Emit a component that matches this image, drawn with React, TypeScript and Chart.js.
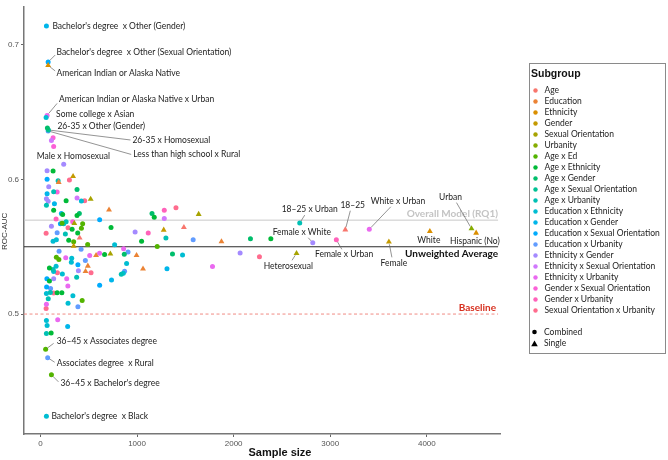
import { useEffect, useRef } from "react";
import { Chart, registerables } from "chart.js";
Chart.register(...registerables);

const LABEL_FONT = "Lato, 'Open Sans', sans-serif";
const AXIS_FONT = "'Liberation Sans Narrow', 'Liberation Sans', Roboto, sans-serif";

const subgroups = [
  "Age", "Education", "Ethnicity", "Gender", "Sexual Orientation", "Urbanity",
  "Age x Ed", "Age x Ethnicity", "Age x Gender", "Age x Sexual Orientation", "Age x Urbanity",
  "Education x Ethnicity", "Education x Gender", "Education x Sexual Orientation", "Education x Urbanity",
  "Ethnicity x Gender", "Ethnicity x Sexual Orientation", "Ethnicity x Urbanity",
  "Gender x Sexual Orientation", "Gender x Urbanity", "Sexual Orientation x Urbanity",
];
const subgroupColors = [
  "#F8766D", "#EB8335", "#DA8F00", "#C49A00", "#A7A300", "#86AC00",
  "#53B400", "#00BA38", "#00BE6C", "#00C194", "#00C0B4",
  "#00BDD2", "#00B6EA", "#00ABFD", "#619CFF",
  "#A48AFF", "#D078FD", "#EA69F0",
  "#FB61D7", "#FF62BA", "#FF6C8E",
];

const xTicks = [0, 1000, 2000, 3000, 4000];
const yTicks = [0.5, 0.6, 0.7];
const X_MIN = -170, X_MAX = 4757, Y_MIN = 0.411, Y_MAX = 0.728;

const overallModel = 0.5697;
const unweightedAverage = 0.55;
const baseline = 0.5;

const sampleSize = [
  62, 80, 80, 69, 59, 72, 83, 80, 131, 114, 137, 241, 69, 131, 338, 69, 300, 183, 189, 86,
  379, 69, 137, 173, 62, 80, 379, 266, 424, 458, 520, 62, 145, 137, 710, 217, 230, 403, 379, 613,
  162, 224, 266, 334, 351, 207, 241, 437, 731, 114, 286, 328, 424, 386, 59, 173, 258, 406, 131, 165,
  293, 344, 489, 344, 421, 768, 1155, 1178, 1282, 1282, 1403, 1638, 980, 1116, 1276, 1299, 1485, 1581, 1047, 1209,
  1874, 2174, 2385, 1367, 1471, 2067, 2267, 2651, 2684, 3156, 3404, 4462, 4510, 4031, 3607, 3063, 2819, 861, 907, 868,
  724, 995, 892, 1062, 1310, 1781, 871, 858, 837, 736, 193, 165, 191, 262, 324, 510, 576, 612, 664, 465,
  320, 388, 93, 162, 131, 491, 393, 467, 524, 137, 176, 227, 272, 375, 67, 137, 93, 613, 284, 64,
  105, 62, 103, 137, 173, 222, 336, 432, 286, 81, 388, 62, 59, 62, 69, 179, 282, 62, 111, 54,
  75, 114, 62,
];
const rocAuc = [
  0.7138, 0.6870, 0.6845, 0.6474, 0.6459, 0.6381, 0.6366, 0.6359, 0.6308, 0.6288, 0.6244, 0.6112, 0.6064, 0.6061, 0.6022, 0.6000, 0.5995, 0.5989, 0.5978, 0.5944,
  0.5925, 0.5892, 0.5907, 0.5905, 0.5856, 0.5837, 0.5861, 0.5841, 0.5839, 0.5841, 0.5853, 0.5807, 0.5819, 0.5771, 0.5773, 0.5746, 0.5738, 0.5746, 0.5731, 0.5700,
  0.5705, 0.5673, 0.5685, 0.5685, 0.5673, 0.5670, 0.5670, 0.5670, 0.5643, 0.5651, 0.5641, 0.5629, 0.5636, 0.5602, 0.5599, 0.5604, 0.5595, 0.5566, 0.5541, 0.5551,
  0.5548, 0.5536, 0.5516, 0.5504, 0.5480, 0.5514, 0.5746, 0.5719, 0.5771, 0.5709, 0.5788, 0.5741, 0.5608, 0.5602, 0.5624, 0.5564, 0.5643, 0.5551, 0.5541, 0.5502,
  0.5538, 0.5558, 0.5558, 0.5445, 0.5438, 0.5453, 0.5426, 0.5451, 0.5675, 0.5626, 0.5629, 0.5634, 0.5602, 0.5614, 0.5536, 0.5551, 0.5529, 0.5485, 0.5461, 0.5443,
  0.5447, 0.5436, 0.5375, 0.5336, 0.5336, 0.5352, 0.5317, 0.5302, 0.5295, 0.5253, 0.5467, 0.5421, 0.5404, 0.5418, 0.5414, 0.5434, 0.5436, 0.5452, 0.5442, 0.5397,
  0.5385, 0.5366, 0.5341, 0.5355, 0.5331, 0.5357, 0.5322, 0.5317, 0.5306, 0.5315, 0.5306, 0.5297, 0.5262, 0.5273, 0.5262, 0.5262, 0.5245, 0.5214, 0.5209, 0.5201,
  0.5189, 0.5152, 0.5160, 0.5156, 0.5158, 0.5158, 0.5136, 0.5101, 0.5081, 0.5114, 0.5055, 0.5073, 0.5042, 0.4952, 0.4916, 0.4958, 0.4908, 0.4855, 0.4859, 0.4738,
  0.4676, 0.4549, 0.4242,
];
// index into subgroups
const pointGroup = [
  12, 13, 2, 17, 11, 8, 9, 14, 18, 16, 18, 15, 15, 7, 3, 13, 20, 10, 1, 15,
  8, 12, 10, 18, 15, 15, 16, 7, 11, 20, 4, 10, 12, 7, 1, 12, 7, 8, 7, 13,
  19, 6, 10, 18, 4, 13, 11, 6, 7, 15, 20, 7, 6, 7, 20, 14, 10, 0, 11, 11,
  7, 6, 6, 3, 14, 11, 8, 7, 19, 16, 20, 4, 15, 19, 3, 10, 0, 14, 7, 6,
  1, 8, 7, 8, 11, 15, 20, 4, 10, 0, 17, 5, 2, 2, 3, 19, 15, 17, 14, 8,
  4, 1, 11, 1, 12, 17, 14, 11, 10, 12, 14, 6, 6, 17, 11, 17, 1, 17, 7, 14,
  11, 13, 7, 11, 10, 1, 15, 1, 20, 11, 20, 11, 17, 10, 13, 15, 7, 13, 17, 13,
  14, 11, 10, 20, 7, 7, 11, 6, 11, 10, 14, 17, 20, 11, 11, 17, 12, 10, 7, 6,
  14, 6, 11,
];
// C = Combined, S = Single
const pointKind =
  "CCSCCCCCCCCCCCSCCCSC" +
  "CCCCCCCCCCSCCCSCCCCC" +
  "CCCCSCCCCCCCCCCCCSCC" +
  "CCCSCCCCCCCSCCSCSCCC" +
  "SCCCCCCSCSCSSSSCCCCC" +
  "SSCSCCCCCCCCCCCCSCCC" +
  "CCCCCSCSCCCCCCCCCCCC" +
  "CCCCCCCCCCCCCCCCCCCC" +
  "CCC";

// label layout: point index, text, text offset from the point (px), alignment, optional leader end (px)
const annotations: { i: number; text: string; dx: number; dy: number; align: CanvasTextAlign; line?: [number, number] }[] = [
  { i: 0, text: "Bachelor's degree  x Other (Gender)", dx: 6, dy: 0, align: "left" },
  { i: 1, text: "Bachelor's degree  x Other (Sexual Orientation)", dx: 8.3, dy: -10, align: "left", line: [7, -7] },
  { i: 2, text: "American Indian or Alaska Native", dx: 8.3, dy: 8, align: "left", line: [7, 5.5] },
  { i: 3, text: "American Indian or Alaska Native x Urban", dx: 12, dy: -16, align: "left", line: [10, -12] },
  { i: 4, text: "Some college x Asian", dx: 10, dy: -3, align: "left" },
  { i: 5, text: "26-35 x Other (Gender)", dx: 10, dy: -2, align: "left" },
  { i: 6, text: "26-35 x Homosexual", dx: 84, dy: 10, align: "left", line: [82, 10] },
  { i: 7, text: "Less than high school x Rural", dx: 85, dy: 23.5, align: "left", line: [83, 23.5] },
  { i: 10, text: "Male x Homosexual", dx: -17, dy: 10, align: "left" },
  { i: 159, text: "36\u201345 x Associates degree", dx: 11, dy: -8, align: "left", line: [8, -6] },
  { i: 160, text: "Associates degree  x Rural", dx: 9, dy: 6, align: "left", line: [7, 4.5] },
  { i: 161, text: "36\u201345 x Bachelor's degree", dx: 9, dy: 8.5, align: "left", line: [7, 7] },
  { i: 162, text: "Bachelor's degree  x Black", dx: 5, dy: 0, align: "left" },
  { i: 88, text: "18\u201325 x Urban", dx: 10, dy: -13.6, align: "center", line: [5, -8] },
  { i: 89, text: "18\u201325", dx: 7.4, dy: -24.3, align: "center", line: [5, -19] },
  { i: 90, text: "White x Urban", dx: 28.7, dy: -28, align: "center", line: [21.5, -22.5] },
  { i: 91, text: "Urban", dx: -21, dy: -31, align: "center", line: [-15, -26] },
  { i: 92, text: "Hispanic (No)", dx: -1.3, dy: 8.7, align: "center" },
  { i: 93, text: "White", dx: -1, dy: 9, align: "center" },
  { i: 94, text: "Female", dx: 5, dy: 21.7, align: "center", line: [3, 15.5] },
  { i: 95, text: "Female x Urban", dx: 7.7, dy: 14.7, align: "center", line: [5.5, 9.5] },
  { i: 96, text: "Female x White", dx: -11, dy: -10.3, align: "center", line: [-4.5, -5] },
  { i: 87, text: "Heterosexual", dx: -8.2, dy: 13, align: "center", line: [-4.5, 7] },
];

const drawPlugin = {
  id: "drawExtras",
  afterDatasetsDraw(chart: any) {
    const ctx: CanvasRenderingContext2D = chart.ctx;
    const xs = chart.scales.x;
    const ys = chart.scales.y;
    const right = chart.chartArea.right;
    ctx.save();
    // reference line labels
    ctx.textBaseline = "middle";
    ctx.textAlign = "right";
    ctx.font = `bold 10px ${LABEL_FONT}`;
    ctx.fillStyle = "#c4c4c4";
    ctx.fillText("Overall Model (RQ1)", right - 2, ys.getPixelForValue(overallModel) - 6);
    ctx.fillStyle = "#111";
    ctx.fillText("Unweighted Average", right - 2, ys.getPixelForValue(unweightedAverage) + 7.5);
    ctx.fillStyle = "#d7301f";
    ctx.fillText("Baseline", right - 4, ys.getPixelForValue(baseline) - 6);

    // point labels
    ctx.font = `8.5px ${LABEL_FONT}`;
    ctx.fillStyle = "#222";
    ctx.strokeStyle = "#666";
    ctx.lineWidth = 0.7;
    for (const a of annotations) {
      const px = xs.getPixelForValue(sampleSize[a.i]);
      const py = ys.getPixelForValue(rocAuc[a.i]);
      if (a.line) {
        const len = Math.hypot(a.line[0], a.line[1]);
        const sx = px + (a.line[0] / len) * 2.5;
        const sy = py + (a.line[1] / len) * 2.5;
        ctx.beginPath();
        ctx.moveTo(sx, sy);
        ctx.lineTo(px + a.line[0], py + a.line[1]);
        ctx.stroke();
      }
      ctx.textAlign = a.align;
      ctx.fillText(a.text, px + a.dx, py + a.dy);
    }
    ctx.restore();
  },
  afterDraw(chart: any) {
    const ctx: CanvasRenderingContext2D = chart.ctx;
    const area = chart.chartArea;
    ctx.save();
    // axis titles
    ctx.fillStyle = "#111";
    ctx.textAlign = "center";
    ctx.textBaseline = "middle";
    ctx.font = `bold 11px ${AXIS_FONT}`;
    ctx.fillText("Sample size", 280, 452.5);
    ctx.save();
    ctx.translate(5, (area.top + area.bottom) / 2 + 11);
    ctx.rotate(-Math.PI / 2);
    ctx.font = `8px ${AXIS_FONT}`;
    ctx.fillStyle = "#333";
    ctx.fillText("ROC-AUC", 0, 0);
    ctx.restore();

    // legend
    const lx = 529.5, ly = 63.5, lw = 136, lh = 290;
    ctx.strokeStyle = "#8a8a8a";
    ctx.lineWidth = 1;
    ctx.strokeRect(lx, ly, lw, lh);
    ctx.textAlign = "left";
    ctx.fillStyle = "#111";
    ctx.font = `bold 10.5px ${AXIS_FONT}`;
    ctx.fillText("Subgroup", 531, 74);
    ctx.font = `8.5px ${LABEL_FONT}`;
    subgroups.forEach((name, k) => {
      const y = 90.5 + k * 11;
      ctx.fillStyle = subgroupColors[k];
      ctx.beginPath();
      ctx.arc(535.5, y, 2.2, 0, Math.PI * 2);
      ctx.fill();
      ctx.fillStyle = "#222";
      ctx.fillText(name, 544.5, y);
    });
    ctx.fillStyle = "#000";
    ctx.beginPath();
    ctx.arc(534.5, 332, 2.3, 0, Math.PI * 2);
    ctx.fill();
    ctx.beginPath();
    ctx.moveTo(534.5, 340.5);
    ctx.lineTo(537.8, 346.2);
    ctx.lineTo(531.2, 346.2);
    ctx.closePath();
    ctx.fill();
    ctx.fillStyle = "#222";
    ctx.fillText("Combined", 544, 332);
    ctx.fillText("Single", 544, 343.7);
    ctx.restore();
  },
};

export default function App() {
  const ref = useRef<HTMLCanvasElement>(null);
  useEffect(() => {
    document.body.style.margin = "0";
    const canvas = ref.current;
    if (!canvas) return;
    const datasets: any[] = [];
    subgroups.forEach((name, g) => {
      ["C", "S"].forEach((k) => {
        const data: { x: number; y: number }[] = [];
        for (let i = 0; i < sampleSize.length; i++) {
          if (pointGroup[i] === g && pointKind[i] === k) data.push({ x: sampleSize[i], y: rocAuc[i] });
        }
        if (!data.length) return;
        datasets.push({
          label: k === "S" ? `${name} (Single)` : name,
          data,
          pointStyle: k === "S" ? "triangle" : "circle",
          pointRadius: k === "S" ? 3.4 : 2.5,
          backgroundColor: subgroupColors[g],
          borderColor: subgroupColors[g],
          borderWidth: 0,
          order: 1,
        });
      });
    });
    const refLine = (y: number, color: string, width: number, dash: number[]) => ({
      label: "ref",
      data: [{ x: X_MIN, y }, { x: X_MAX - 20, y }],
      showLine: true,
      pointRadius: 0,
      borderColor: color,
      borderWidth: width,
      borderDash: dash,
      order: 10,
    });
    datasets.push(refLine(overallModel, "#c8c8c8", 1, []));
    datasets.push(refLine(unweightedAverage, "#2b2b2b", 1.1, []));
    datasets.push(refLine(baseline, "#f08a84", 1, [3, 2.5]));

    const chart = new Chart(canvas, {
      type: "scatter",
      data: { datasets },
      options: {
        responsive: false,
        animation: false,
        devicePixelRatio: 1,
        layout: { padding: { top: 2, right: 168, left: 0, bottom: 0 } },
        plugins: { legend: { display: false }, tooltip: { enabled: false } },
        scales: {
          x: {
            type: "linear",
            min: X_MIN,
            max: X_MAX,
            afterBuildTicks: (s: any) => { s.ticks = xTicks.map((v) => ({ value: v })); },
            afterFit: (s: any) => { s.height = 26; },
            grid: { drawOnChartArea: false, drawTicks: true, tickLength: 3, color: "#666", tickWidth: 1 },
            border: { display: true, color: "#777", width: 1.5 },
            ticks: { color: "#555", padding: 2, font: { family: AXIS_FONT, size: 8 }, maxRotation: 0, callback: (v: any) => String(v) },
          },
          y: {
            type: "linear",
            min: Y_MIN,
            max: Y_MAX,
            afterBuildTicks: (s: any) => { s.ticks = yTicks.map((v) => ({ value: v })); },
            afterFit: (s: any) => { s.width = 24; },
            grid: { drawOnChartArea: false, drawTicks: true, tickLength: 3, color: "#666", tickWidth: 1 },
            border: { display: true, color: "#777", width: 1.5 },
            ticks: { color: "#555", padding: 2, font: { family: AXIS_FONT, size: 8 }, callback: (v: any) => Number(v).toFixed(1) },
          },
        },
      },
      plugins: [drawPlugin],
    });
    return () => chart.destroy();
  }, []);
  return <canvas ref={ref} width={668} height={460} style={{ display: "block" }} />;
}
